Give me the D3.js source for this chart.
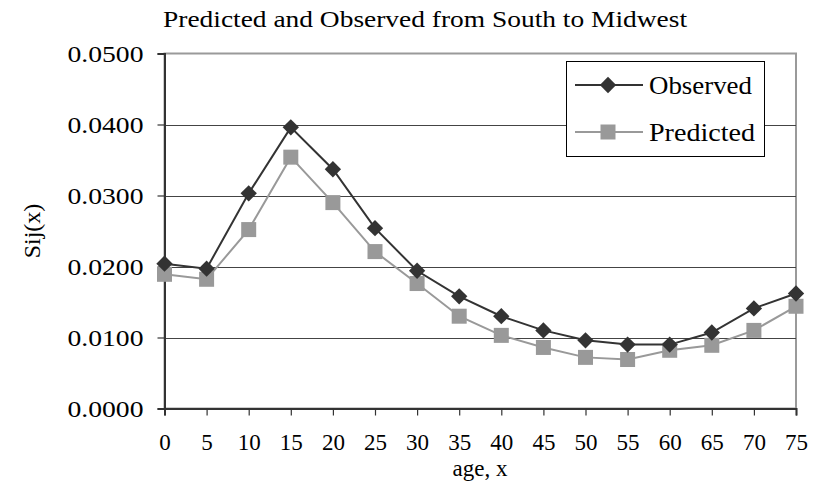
<!DOCTYPE html>
<html>
<head>
<meta charset="utf-8">
<script src="https://cdn.jsdelivr.net/npm/d3@7"></script>
<style>
  body { margin: 0; background: #fff; }
  text { font-family: "Liberation Serif", "Times New Roman", serif; fill: #000; }
</style>
</head>
<body>
<script>
const w = 825, h = 486

// data
const ages = [0, 5, 10, 15, 20, 25, 30, 35, 40, 45, 50, 55, 60, 65, 70, 75]
const observed = [0.0204, 0.0197, 0.0303, 0.0396, 0.0337, 0.0254, 0.0194, 0.0158,
    0.0130, 0.0110, 0.0096, 0.0090, 0.0090, 0.0107, 0.0141, 0.0162]
const predicted = [0.0189, 0.0182, 0.0252, 0.0354, 0.0290, 0.0221, 0.0176, 0.0130,
    0.0103, 0.0086, 0.0072, 0.0069, 0.0082, 0.0089, 0.0110, 0.0144]
const yTicks = [0, 0.01, 0.02, 0.03, 0.04, 0.05]
const title = "Predicted and Observed from South to Midwest"
const xLabel = "age, x"
const yLabel = "Sij(x)"

const pL = 164.5, pR = 796, pT = 53.5, pB = 408.5

const x = d3.scaleLinear().domain([0, 75]).range([pL, pR])
const y = d3.scaleLinear().domain([0, 0.05]).range([pB, pT])

const svg = d3.select('body').append('svg')
    .attr('width', w).attr('height', h)

// plot frame (top / right are light grey)
svg.append('rect')
    .attr('x', pL).attr('y', pT)
    .attr('width', pR - pL).attr('height', pB - pT)
    .attr('fill', 'none').attr('stroke', '#9a9a9a').attr('stroke-width', 2)

// gridlines
svg.append('g').selectAll('line')
    .data(yTicks.slice(1, -1))
    .join('line')
    .attr('x1', pL).attr('x2', pR)
    .attr('y1', d => Math.round(y(d)) + 0.5).attr('y2', d => Math.round(y(d)) + 0.5)
    .attr('stroke', '#444').attr('stroke-width', 1)

// y axis
const yAxis = svg.append('g')
    .attr('transform', `translate(${pL},0)`)
    .call(d3.axisLeft(y).tickValues(yTicks).tickSize(7).tickPadding(14)
        .tickFormat(d3.format('.4f')))
yAxis.select('.domain').attr('stroke', '#333').attr('stroke-width', 2)
yAxis.selectAll('.tick line').attr('stroke', '#333').attr('stroke-width', 1.2)
yAxis.selectAll('.tick text')
    .attr('font-size', 24)
    .attr('textLength', 76).attr('lengthAdjust', 'spacingAndGlyphs')
    .style('font-family', '"Liberation Serif", serif').attr('fill', '#000')

// x axis
const xAxis = svg.append('g')
    .attr('transform', `translate(0,${pB})`)
    .call(d3.axisBottom(x).tickValues(ages).tickSize(7).tickPadding(18)
        .tickFormat(d3.format('d')))
xAxis.select('.domain').attr('stroke', '#333').attr('stroke-width', 2)
xAxis.selectAll('.tick line').attr('stroke', '#333').attr('stroke-width', 1.2)
xAxis.selectAll('.tick text')
    .attr('font-size', 23)
    .style('font-family', '"Liberation Serif", serif').attr('fill', '#000')

// lines
const line = d3.line().x((d, i) => x(ages[i])).y(d => y(d))

svg.append('path').datum(predicted)
    .attr('d', line).attr('fill', 'none')
    .attr('stroke', '#999').attr('stroke-width', 2)

svg.append('path').datum(observed)
    .attr('d', line).attr('fill', 'none')
    .attr('stroke', '#333').attr('stroke-width', 2)

// markers
const sq = 15
svg.append('g').selectAll('rect')
    .data(predicted)
    .join('rect')
    .attr('x', (d, i) => x(ages[i]) - sq / 2)
    .attr('y', d => y(d) - sq / 2)
    .attr('width', sq).attr('height', sq)
    .attr('fill', '#999')

const diamond = d3.symbol().type(d3.symbolDiamond2).size(170)
svg.append('g').selectAll('path')
    .data(observed)
    .join('path')
    .attr('transform', (d, i) => `translate(${x(ages[i])},${y(d)})`)
    .attr('d', diamond)
    .attr('fill', '#333')

// legend
const lg = svg.append('g')
lg.append('rect')
    .attr('x', 566.5).attr('y', 61.5).attr('width', 198).attr('height', 95)
    .attr('fill', '#fff').attr('stroke', '#000').attr('stroke-width', 1)

const legendItems = [
    { name: 'Observed', color: '#333', ly: 85, mark: 'diamond' },
    { name: 'Predicted', color: '#999', ly: 132, mark: 'square' }
]
legendItems.forEach(it => {
    lg.append('line')
        .attr('x1', 575).attr('x2', 643).attr('y1', it.ly).attr('y2', it.ly)
        .attr('stroke', it.color).attr('stroke-width', 2)
    if (it.mark === 'diamond') {
        lg.append('path')
            .attr('transform', `translate(608,${it.ly})`)
            .attr('d', diamond).attr('fill', it.color)
    } else {
        lg.append('rect')
            .attr('x', 608 - sq / 2).attr('y', it.ly - sq / 2)
            .attr('width', sq).attr('height', sq).attr('fill', it.color)
    }
    lg.append('text')
        .attr('x', 649).attr('y', it.ly + 9)
        .attr('font-size', 26)
        .attr('textLength', it.name === 'Observed' ? 103 : 106)
        .attr('lengthAdjust', 'spacingAndGlyphs')
        .text(it.name)
})

// titles
svg.append('text')
    .attr('x', 425).attr('y', 27)
    .attr('text-anchor', 'middle')
    .attr('font-size', 23)
    .attr('textLength', 524).attr('lengthAdjust', 'spacingAndGlyphs')
    .text(title)

svg.append('text')
    .attr('x', 480).attr('y', 476)
    .attr('text-anchor', 'middle')
    .attr('font-size', 23)
    .text(xLabel)

svg.append('text')
    .attr('transform', 'translate(40,231) rotate(-90)')
    .attr('text-anchor', 'middle')
    .attr('font-size', 24)
    .text(yLabel)
</script>
</body>
</html>
